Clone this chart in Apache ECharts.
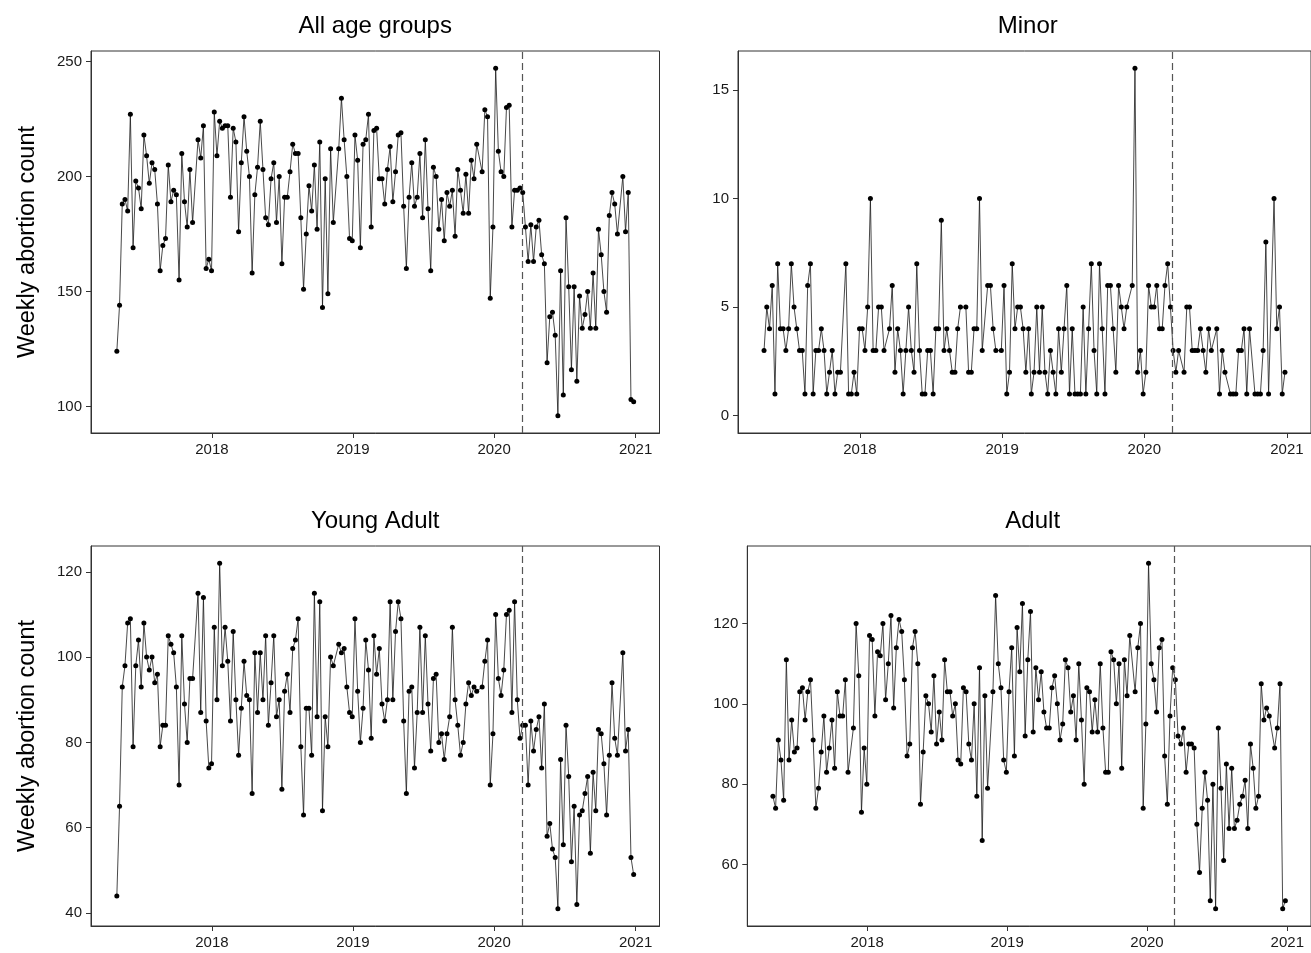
<!DOCTYPE html>
<html><head><meta charset="utf-8">
<script src="https://cdn.jsdelivr.net/npm/echarts@6/dist/echarts.min.js"></script>
<style>html,body{margin:0;padding:0;background:#fff}#c{width:1311px;height:953px}</style>
</head><body><div id="c"></div><script>
// Weekly series start on Sunday 30 Apr 2017; null = week absent from the data (line connects across)
const firstWeek = [2017, 3, 30];
const policyDate = [2020, 2, 13];
const yearTicks = [2018, 2019, 2020, 2021];
const panelTitles = ['All age groups', 'Minor', 'Young Adult', 'Adult'];
const yTicksAll = [100, 150, 200, 250];
const yTicksMinor = [0, 5, 10, 15];
const yTicksYoung = [40, 60, 80, 100, 120];
const yTicksAdult = [60, 80, 100, 120];

const allAges = [124,144,188,190,185,227,169,198,195,186,218,209,197,206,203,188,159,170,173,205,189,194,192,155,210,189,178,203,180,null,
216,208,222,160,164,159,228,209,224,221,222,222,191,221,215,176,206,226,211,200,158,192,204,224,203,182,179,199,206,180,200,162,191,191,202,214,
210,210,182,151,175,196,185,205,177,215,143,199,149,212,180,null,212,234,216,200,173,172,218,207,169,214,216,227,178,220,221,199,199,188,203,213,189,202,218,219,187,160,191,206,187,191,210,182,216,186,159,204,200,177,190,172,193,187,194,174,203,194,184,201,184,207,199,214,null,
202,229,226,147,178,247,211,202,200,230,231,178,194,194,195,193,178,163,179,163,178,181,166,162,119,139,141,131,96,159,105,182,152,116,152,111,148,134,140,150,134,158,134,177,166,150,141,183,193,188,175,null,200,176,193,103,102];

const minor = [3,5,4,6,1,7,4,4,3,4,7,5,4,3,3,1,6,7,1,3,3,4,3,1,2,3,1,2,2,null,
7,1,1,2,1,4,4,3,5,10,3,3,5,5,3,null,4,6,2,4,3,1,3,5,3,2,7,3,1,1,3,3,1,4,4,9,
3,4,3,2,2,4,5,null,5,2,2,4,4,10,3,null,6,6,4,3,null,3,6,1,2,7,4,5,5,4,2,4,1,2,5,2,5,2,1,3,2,1,4,2,4,6,1,4,1,1,1,5,1,4,7,3,1,7,4,1,6,6,4,2,6,5,4,5,null,
6,16,2,3,1,2,6,5,5,6,4,4,6,7,5,3,2,3,null,2,5,5,3,3,3,4,3,2,4,3,null,4,1,3,2,null,1,1,1,3,3,4,1,4,null,1,1,1,3,8,1,null,10,4,5,1,2];

const youngAdult = [44,65,93,98,108,109,79,98,104,93,108,100,97,100,94,96,79,84,84,105,103,101,93,70,105,89,80,95,95,null,
115,87,114,85,74,75,107,90,122,98,107,99,85,106,90,77,88,99,91,90,68,101,87,101,90,105,84,94,105,86,90,69,92,96,87,102,
104,109,79,63,88,88,77,115,86,113,64,86,79,100,98,null,103,101,102,93,87,86,109,92,80,88,104,97,81,105,96,102,89,85,90,113,90,106,113,109,85,68,92,93,74,87,107,87,105,89,78,95,96,80,82,76,82,86,107,90,84,77,80,89,94,91,93,92,null,
93,99,104,70,82,110,95,91,97,110,111,87,113,90,81,84,84,70,85,78,83,86,74,89,58,61,55,53,41,76,56,84,72,52,65,42,63,64,68,72,54,73,64,83,82,75,63,77,94,81,77,null,101,78,83,53,49];

const adult = [77,74,91,86,76,111,86,96,88,89,103,104,96,103,106,91,74,79,88,97,83,89,96,84,103,97,97,106,83,null,
94,120,107,73,89,80,117,116,97,113,112,120,101,110,122,99,114,121,118,106,87,90,114,118,110,75,88,102,100,93,107,90,98,91,111,103,
103,97,100,86,85,104,103,90,86,100,77,109,66,102,79,null,103,127,110,104,86,83,103,114,87,119,108,125,92,111,123,93,109,101,108,98,94,94,104,107,100,91,95,111,109,98,102,91,110,96,80,104,103,93,101,93,110,94,83,83,113,111,100,110,84,111,102,117,null,
103,114,120,74,95,135,110,106,98,114,116,87,75,97,109,106,92,90,94,83,90,90,89,70,58,74,83,76,51,80,49,94,79,61,85,69,84,69,71,75,77,81,69,90,84,74,77,105,96,99,97,null,89,94,105,49,51];

const weekTs = allAges.map((_, i) => new Date(firstWeek[0], firstWeek[1], firstWeek[2] + 7 * i).getTime());
const policyTs = new Date(policyDate[0], policyDate[1], policyDate[2]).getTime();
const yearTs = yearTicks.map(y => new Date(y, 0, 1).getTime());
const xPad = 0.05 * (weekTs[weekTs.length - 1] - weekTs[0]);
const xMin = weekTs[0] - xPad, xMax = weekTs[weekTs.length - 1] + xPad;

const panels = [
  {vals: allAges, ticks: yTicksAll, grid: {left: 91, top: 51, width: 568.5, height: 382}, yName: true, zero: false},
  {vals: minor, ticks: yTicksMinor, grid: {left: 738, top: 51, width: 579.5, height: 382}, yName: false, zero: true},
  {vals: youngAdult, ticks: yTicksYoung, grid: {left: 91, top: 546, width: 568.5, height: 380}, yName: true, zero: false},
  {vals: adult, ticks: yTicksAdult, grid: {left: 747.3, top: 546, width: 570.8, height: 380}, yName: false, zero: false}
];

const FONT = '"Liberation Sans", Arial, Helvetica, sans-serif';
const AX = '#333333';

const option = {
  animation: false,
  backgroundColor: '#ffffff',
  textStyle: {fontFamily: FONT},
  title: panels.map((p, i) => ({
    text: panelTitles[i],
    left: p.grid.left + p.grid.width / 2,
    top: p.grid.top - 37,
    padding: 0,
    textAlign: 'center',
    textStyle: {fontSize: 24, fontWeight: 'normal', color: '#000', fontFamily: FONT}
  })),
  grid: panels.map(p => Object.assign({show: true, borderColor: AX, borderWidth: 1, backgroundColor: '#fff'}, p.grid)),
  xAxis: panels.map((p, i) => ({
    type: 'value', gridIndex: i, min: xMin, max: xMax,
    axisLine: {show: true, onZero: false, lineStyle: {color: AX, width: 1}},
    axisTick: {show: true, length: 5, customValues: yearTs, lineStyle: {color: AX, width: 1}},
    axisLabel: {show: true, customValues: yearTs, formatter: v => String(new Date(v).getFullYear()),
      fontSize: 15, color: '#1a1a1a', margin: 9, fontFamily: FONT},
    splitLine: {show: false}
  })),
  yAxis: panels.map((p, i) => {
    const v = p.vals.filter(x => x != null);
    let lo = Math.min(...v), hi = Math.max(...v);
    if (p.zero) lo = Math.min(lo, 0);
    const pad = 0.05 * (hi - lo);
    return {
      type: 'value', gridIndex: i, min: lo - pad, max: hi + pad,
      name: p.yName ? 'Weekly abortion count' : '', nameLocation: 'middle', nameGap: 51,
      nameTextStyle: {fontSize: 23.5, color: '#000', fontFamily: FONT},
      axisLine: {show: true, onZero: false, lineStyle: {color: AX, width: 1}},
      axisTick: {show: true, length: 5, customValues: p.ticks, lineStyle: {color: AX, width: 1}},
      axisLabel: {show: true, customValues: p.ticks, fontSize: 15, color: '#1a1a1a', margin: 9, fontFamily: FONT},
      splitLine: {show: false}
    };
  }),
  series: panels.map((p, i) => ({
    type: 'line', xAxisIndex: i, yAxisIndex: i,
    data: weekTs.map((t, k) => [t, p.vals[k]]),
    connectNulls: true,
    symbol: 'circle', symbolSize: 5, showSymbol: true,
    itemStyle: {color: '#000'},
    lineStyle: {color: '#1a1a1a', width: 0.8},
    markLine: {
      silent: true, symbol: ['none', 'none'], label: {show: false},
      lineStyle: {type: [7, 4], color: '#555', width: 1.2},
      data: [{xAxis: policyTs}]
    }
  }))
};
echarts.init(document.getElementById('c'), null, {renderer: 'canvas'}).setOption(option);
</script></body></html>
